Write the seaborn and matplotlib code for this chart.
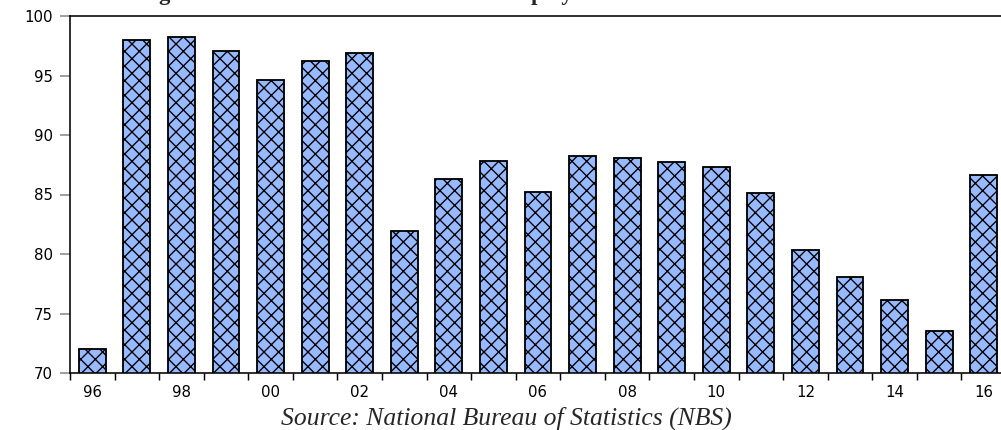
import numpy as np
import pandas as pd
import seaborn as sns
import matplotlib
matplotlib.use('Agg')
import matplotlib.pyplot as plt

# data
years = ['96', '97', '98', '99', '00', '01', '02', '03', '04', '05', '06',
         '07', '08', '09', '10', '11', '12', '13', '14', '15', '16']
rate = [72.0, 98.0, 98.2, 97.1, 94.6, 96.2, 96.9, 81.9, 86.3, 87.8, 85.2,
        88.2, 88.1, 87.7, 87.3, 85.1, 80.3, 78.1, 76.1, 73.5, 86.6]
yticks = [70, 75, 80, 85, 90, 95, 100]
title = 'Figure 1: Bar Chart of the Graduate Employment Rate from 1996 to 2016'
source = 'Source: National Bureau of Statistics (NBS)'

sns.set_style('white')
plt.rcParams['font.family'] = ['DejaVu Sans']
plt.rcParams['hatch.linewidth'] = 1.1
plt.rcParams['hatch.color'] = 'black'

DPI = 88
fig = plt.figure(figsize=(1001 / DPI, 430 / DPI), dpi=DPI)
ax = fig.add_axes([70 / 1001, 57 / 430, 936 / 1001, 357 / 430])

df = pd.DataFrame({'year': years, 'rate': rate})
sns.barplot(data=df, x='year', y='rate', color='#96B9FF', saturation=1,
            width=0.6, edgecolor='black', linewidth=1.5, hatch='xx', ax=ax)

ax.set_ylim(70, 100)
ax.set_xlim(-0.5, len(years) - 0.5)
ax.set_yticks(yticks)
ax.set_yticklabels([str(v) for v in yticks], fontsize=12.3)

# tick marks on slot boundaries, labels on every other bar
ax.set_xticks(np.arange(len(years) + 1) - 0.5)
ax.set_xticklabels([])
ax.set_xticks(np.arange(0, len(years), 2), minor=True)
ax.set_xticklabels(years[::2], minor=True, fontsize=12.3)
ax.tick_params(axis='x', which='major', direction='out', length=6,
               width=1.2, color='black', bottom=True)
ax.tick_params(axis='x', which='minor', length=0, pad=10, labelcolor='black')
ax.tick_params(axis='y', direction='out', length=8, width=1.3,
               color='#888888', left=True, pad=6, labelcolor='black')

ax.set_xlabel('')
ax.set_ylabel('')
for side in ['left', 'bottom', 'top']:
    ax.spines[side].set_color('black')
    ax.spines[side].set_linewidth(1.3)
ax.spines['right'].set_visible(False)

fig.text(0.495, 1 + 0.5 / 430, title, ha='center', va='baseline',
         family=['Liberation Serif'], fontweight='bold', fontsize=18.5)
fig.text(506 / 1001, 1 - 425 / 430, source, ha='center', va='baseline',
         family=['Liberation Serif'], style='italic', fontsize=21)

fig.savefig('out.png', dpi=DPI)
